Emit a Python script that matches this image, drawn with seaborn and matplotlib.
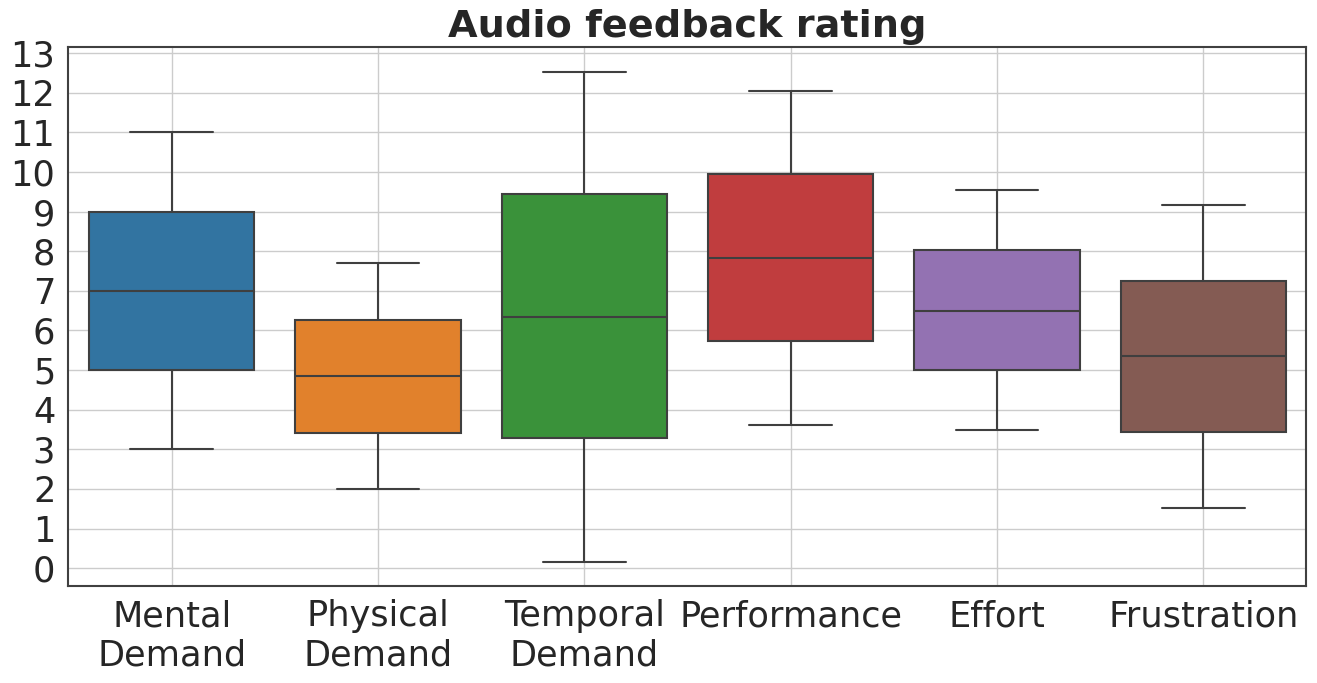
import pandas as pd
import numpy as np
import matplotlib.pyplot as plt
import seaborn as sns

# five-number summaries (whisker low, Q1, median, Q3, whisker high)
categories = ['Mental\nDemand', 'Physical\nDemand', 'Temporal\nDemand',
              'Performance', 'Effort', 'Frustration']
mental = [3.0, 5.0, 7.0, 9.0, 11.0]
physical = [2.0, 3.41, 4.85, 6.26, 7.70]
temporal = [0.15, 3.28, 6.34, 9.44, 12.52]
performance = [3.61, 5.73, 7.83, 9.95, 12.05]
effort = [3.48, 5.0, 6.5, 8.03, 9.55]
frustration = [1.52, 3.43, 5.35, 7.25, 9.17]

series = [mental, physical, temporal, performance, effort, frustration]
df = pd.DataFrame({
    'category': np.repeat(categories, 5),
    'rating': np.concatenate(series),
})

sns.set_theme(style='whitegrid', font_scale=2.3)
plt.rcParams['axes.edgecolor'] = '.25'
plt.rcParams['axes.linewidth'] = 1.5

fig, ax = plt.subplots(figsize=(13.17, 6.83), dpi=100)
sns.boxplot(data=df, x='category', y='rating', hue='category', palette='tab10',
            legend=False, linewidth=1.5, linecolor='#3f3f3f', width=0.8, ax=ax)

ax.set_ylim(-0.45, 13.15)
ax.set_yticks(range(0, 14))
ax.xaxis.grid(True)
ax.set_axisbelow(True)
ax.set_xlabel('')
ax.set_ylabel('')
ax.set_title('Audio feedback rating', fontweight='bold', fontsize=27.5, pad=7)
for s in ax.spines.values():
    s.set_visible(True)
    s.set_color('.25')

fig.subplots_adjust(left=0.052, right=0.992, top=0.931, bottom=0.142)
plt.savefig('out.png')
